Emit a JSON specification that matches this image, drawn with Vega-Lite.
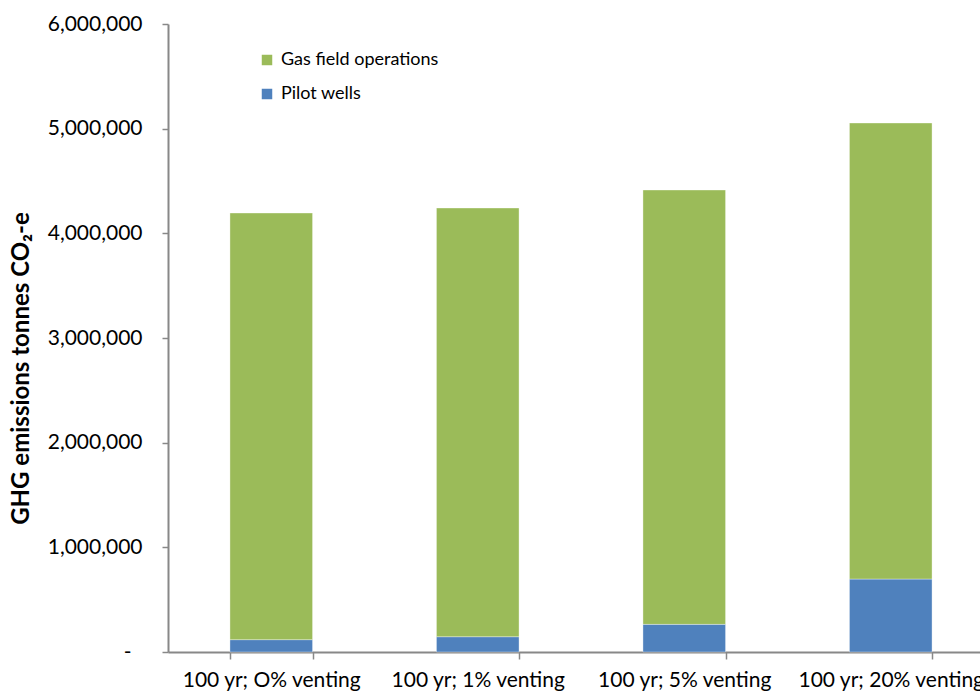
{
  "$schema": "https://vega.github.io/schema/vega-lite/v6.json",
  "autosize": {"type": "none"},
  "padding": {"left": 168, "top": 24, "right": 0, "bottom": 41},
  "width": 812,
  "height": 628,
  "background": "white",
  "config": {
    "view": {"stroke": null},
    "font": "Lato"
  },
  "data": {
    "values": [
      {"scenario": "100 yr; O% venting", "series": "Pilot wells", "value": 118000},
      {"scenario": "100 yr; O% venting", "series": "Gas field operations", "value": 4076000},
      {"scenario": "100 yr; 1% venting", "series": "Pilot wells", "value": 146000},
      {"scenario": "100 yr; 1% venting", "series": "Gas field operations", "value": 4096000},
      {"scenario": "100 yr; 5% venting", "series": "Pilot wells", "value": 264000},
      {"scenario": "100 yr; 5% venting", "series": "Gas field operations", "value": 4150000},
      {"scenario": "100 yr; 20% venting", "series": "Pilot wells", "value": 697000},
      {"scenario": "100 yr; 20% venting", "series": "Gas field operations", "value": 4357000}
    ]
  },
  "mark": {"type": "bar", "stroke": "#ffffff", "strokeWidth": 0.6, "strokeOpacity": 0.6},
  "encoding": {
    "x": {
      "field": "scenario",
      "type": "nominal",
      "sort": null,
      "scale": {"range": [0, 826], "paddingInner": 0.6, "paddingOuter": 0.3},
      "axis": {
        "title": null,
        "labelAngle": 0,
        "labelFont": "Lato",
        "labelFontSize": 21,
        "labelColor": "#000000",
        "labelPadding": 10,
        "tickBand": "extent",
        "tickSize": 7,
        "tickColor": "#888888",
        "tickWidth": 1.5,
        "domainColor": "#888888",
        "domainWidth": 2,
        "labelOverlap": false,
        "labelLimit": 0
      }
    },
    "y": {
      "field": "value",
      "type": "quantitative",
      "stack": "zero",
      "scale": {"domain": [0, 6000000], "nice": false},
      "axis": {
        "title": "GHG emissions tonnes CO₂-e",
        "titleFont": "Lato",
        "titleFontSize": 24,
        "titleFontWeight": "bold",
        "titleColor": "#000000",
        "titlePadding": 14,
        "titleY": 344,
        "values": [0, 1000000, 2000000, 3000000, 4000000, 5000000, 6000000],
        "labelExpr": "datum.value == 0 ? '-' : format(datum.value, ',')",
        "labelFont": "Lato",
        "labelFontSize": 21,
        "labelColor": "#000000",
        "labelPadding": {"condition": {"test": "datum.value == 0", "value": 31}, "value": 20},
        "tickSize": 6,
        "tickColor": "#888888",
        "tickWidth": 1.5,
        "domainColor": "#888888",
        "domainWidth": 2,
        "grid": false
      }
    },
    "color": {
      "field": "series",
      "type": "nominal",
      "scale": {"domain": ["Gas field operations", "Pilot wells"], "range": ["#9BBB59", "#4F81BD"]},
      "legend": {
        "title": null,
        "orient": "none",
        "legendX": 90,
        "legendY": 27,
        "padding": 0,
        "symbolType": "square",
        "symbolSize": 110,
        "symbolStrokeWidth": 0,
        "labelFont": "Lato",
        "labelFontSize": 18,
        "labelColor": "#000000",
        "labelOffset": 5,
        "rowPadding": 16
      }
    },
    "order": {"field": "series", "sort": "descending"}
  }
}
